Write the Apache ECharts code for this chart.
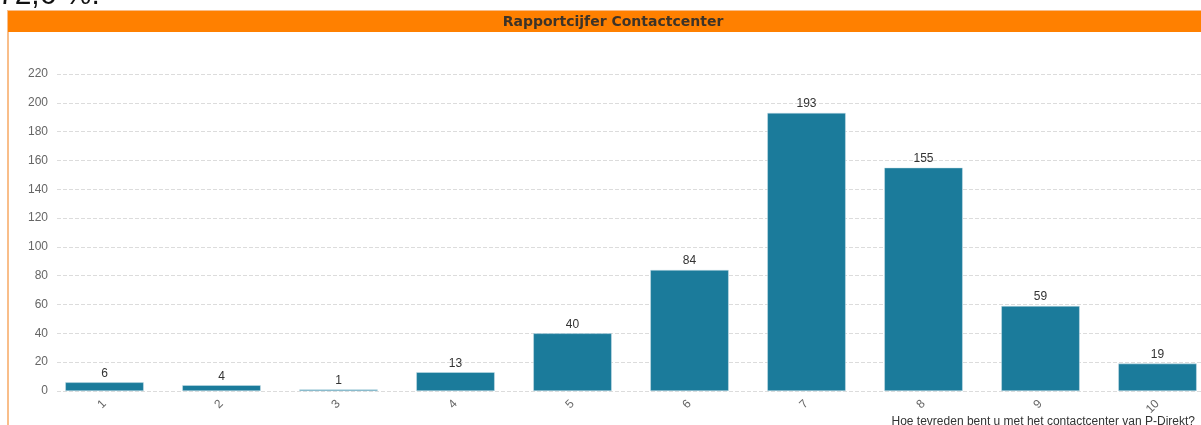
<!DOCTYPE html>
<html lang="nl">
  <head>
    <meta charset="UTF-8" />
    <title>Rapportcijfer Contactcenter</title>
    <script src="https://cdn.jsdelivr.net/npm/echarts@6/dist/echarts.min.js"></script>
    <style>
      html, body { margin: 0; padding: 0; background: #fff; overflow: hidden; }
      #main { width: 1201px; height: 425px; }
    </style>
  </head>
  <body>
    <div id="main"></div>

    <script>
      const myEchart = echarts.init(document.getElementById("main"));

      var categories = ["1", "2", "3", "4", "5", "6", "7", "8", "9", "10"];
      var counts = [6, 4, 1, 13, 40, 84, 193, 155, 59, 19];
      var yTicks = { min: 0, max: 220, interval: 20 };

      const font = "'Liberation Sans', Arial";

      let options = {
        animation: false,
        graphic: [
          // afgesneden tekst van de vorige alinea
          {
            type: "text",
            left: -2,
            top: -19,
            style: { text: "72,6 %.", font: "30px 'Liberation Sans', Arial", fill: "#111" },
          },
          // kader met oranje kop
          {
            type: "rect",
            shape: { x: 8, y: 11, width: 1220, height: 430 },
            style: { fill: "none", stroke: "#f9be8a", lineWidth: 2 },
          },
          {
            type: "rect",
            shape: { x: 8, y: 11, width: 1220, height: 21 },
            style: { fill: "#ff8000" },
          },
          {
            type: "text",
            x: 613,
            y: 22,
            style: {
              text: "Rapportcijfer Contactcenter",
              font: "bold 14px 'DejaVu Sans', Verdana",
              fill: "#3d3328",
              align: "center",
              verticalAlign: "middle",
            },
          },
        ],
        grid: [
          { left: 46, top: 74, bottom: 34, width: 1170, outerBoundsMode: "none" },
          // alleen voor de hulplijnen, die beginnen iets rechts van de labels
          { left: 57, top: 74, bottom: 34, width: 1160, outerBoundsMode: "none" },
        ],
        xAxis: [
          {
            type: "category",
            gridIndex: 0,
            data: categories,
            name: "Hoe tevreden bent u met het contactcenter van P-Direkt?",
            nameLocation: "end",
            nameGap: 0,
            nameMoveOverlap: false,
            nameTextStyle: {
              fontFamily: font,
              fontSize: 12,
              color: "#333",
              align: "right",
              verticalAlign: "top",
              padding: [25, 21, 0, 0],
            },
            axisLine: { show: false },
            axisTick: { show: false },
            axisLabel: { rotate: 45, fontFamily: font, fontSize: 12, color: "#666", margin: 11 },
          },
          { type: "category", gridIndex: 1, data: categories, show: false },
        ],
        yAxis: [
          {
            type: "value",
            gridIndex: 0,
            min: yTicks.min,
            max: yTicks.max,
            interval: yTicks.interval,
            axisLabel: { fontFamily: font, fontSize: 12, color: "#666", margin: -2 },
            splitLine: { show: false },
          },
          {
            type: "value",
            gridIndex: 1,
            min: yTicks.min,
            max: yTicks.max,
            interval: yTicks.interval,
            axisLabel: { show: false },
            splitLine: { lineStyle: { color: "#dcdcdc", type: "dashed" } },
          },
        ],
        series: [
          {
            type: "bar",
            xAxisIndex: 0,
            yAxisIndex: 0,
            data: counts,
            barCategoryGap: "33%",
            z: 3,
            itemStyle: { color: "#1b7b9b", borderColor: "#cde3ea", borderWidth: 0.5 },
            label: {
              show: true,
              position: "top",
              distance: 3,
              fontFamily: font,
              fontSize: 12,
              color: "#333",
            },
          },
        ],
      };

      myEchart.setOption(options);
    </script>
  </body>
</html>
